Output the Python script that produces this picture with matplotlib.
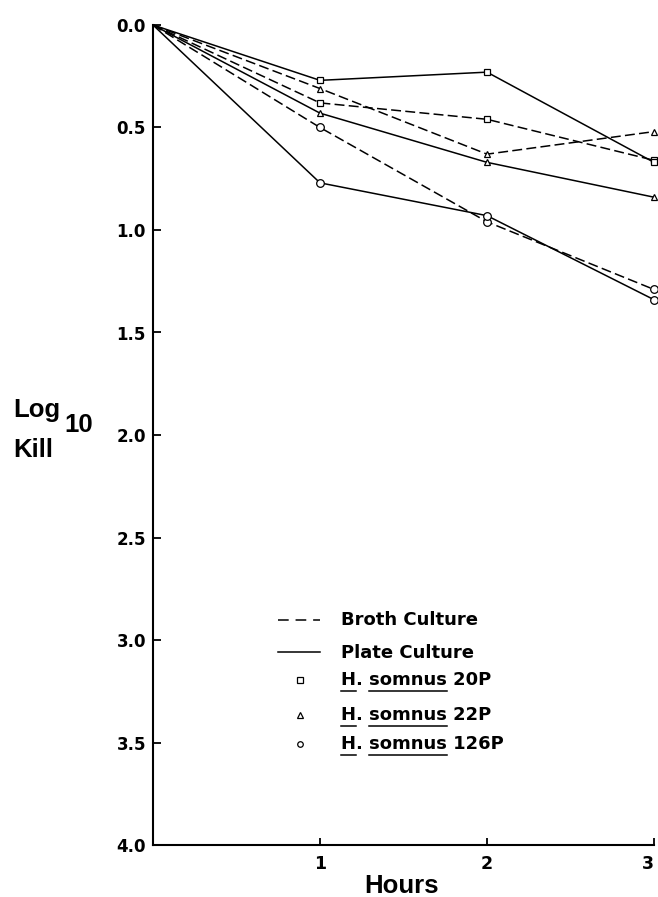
import numpy as np
import matplotlib
matplotlib.use("Agg")
import matplotlib.pyplot as plt
from matplotlib.lines import Line2D

plt.rcParams['font.family'] = ['Liberation Sans', 'DejaVu Sans']

hours = [0, 1, 2, 3]

# log10 kill
broth_20p = [0.0, 0.38, 0.46, 0.66]
plate_20p = [0.0, 0.27, 0.23, 0.67]
broth_22p = [0.0, 0.31, 0.63, 0.52]
plate_22p = [0.0, 0.43, 0.67, 0.84]
broth_126p = [0.0, 0.50, 0.96, 1.29]
plate_126p = [0.0, 0.77, 0.93, 1.34]

y_ticks = [0.0, 0.5, 1.0, 1.5, 2.0, 2.5, 3.0, 3.5, 4.0]
x_ticks = [1, 2, 3]

W, H = 658.0, 897.0
fig = plt.figure(figsize=(6.58, 8.97), dpi=100)
ax = fig.add_axes([153 / W, 1 - 845 / H, (654 - 153) / W, (845 - 25) / H])

dash = (0, (6.5, 2.8))
series = [
    (broth_20p, dash, 's', 5),
    (plate_20p, '-', 's', 5),
    (broth_22p, dash, '^', 5),
    (plate_22p, '-', '^', 5),
    (broth_126p, dash, 'o', 5.5),
    (plate_126p, '-', 'o', 5.5),
]
for vals, ls, mk, ms in series:
    ax.plot(hours, vals, color='black', linestyle=ls, linewidth=1.1, clip_on=False)
    ax.plot(hours[1:], vals[1:], linestyle='none', marker=mk, markersize=ms,
            markerfacecolor='white', markeredgecolor='black', markeredgewidth=0.9,
            clip_on=False, zorder=3)

tick_font = {'family': 'DejaVu Sans', 'weight': 'bold'}
ax.set_xlim(0, 3)
ax.set_ylim(4.0, 0.0)
ax.set_xticks(x_ticks)
ax.set_xticklabels([str(t) for t in x_ticks], fontsize=12.5, fontdict=tick_font)
ax.get_xticklabels()[-1].set_horizontalalignment('right')
ax.set_yticks(y_ticks)
ax.set_yticklabels(['%.1f' % t for t in y_ticks], fontsize=12, fontdict=tick_font)
ax.tick_params(axis='x', direction='in', length=5, width=1.3, pad=7)
ax.tick_params(axis='y', direction='in', length=5.5, width=1.3, pad=5)
for s in ['top', 'right']:
    ax.spines[s].set_visible(False)
for s in ['left', 'bottom']:
    ax.spines[s].set_linewidth(1.5)

big = dict(fontsize=18.5, fontweight='bold', family='Liberation Sans', va='baseline')
fig.text(402 / W, 1 - 893 / H, 'Hours', ha='center', **big)
fig.text(13 / W, 1 - 417 / H, 'Log', ha='left', **big)
fig.text(64 / W, 1 - 432 / H, '10', ha='left', **big)
fig.text(13 / W, 1 - 457 / H, 'Kill', ha='left', **big)

# hand-made legend
leg = dict(fontsize=13, fontweight='bold', family='DejaVu Sans', va='center')
fig.add_artist(Line2D([278 / W, 320 / W], [1 - 620 / H] * 2, color='black',
                      linewidth=1.1, linestyle=(0, (7, 4.5))))
fig.text(341 / W, 1 - 620 / H, 'Broth Culture', **leg)
fig.add_artist(Line2D([278 / W, 320 / W], [1 - 652 / H] * 2, color='black',
                      linewidth=1.1))
fig.text(341 / W, 1 - 653 / H, 'Plate Culture', **leg)

strains = ['20P', '22P', '126P']
strain_markers = ['s', '^', 'o']
strain_rows = [680, 715, 744]
fig.canvas.draw()
renderer = fig.canvas.get_renderer()


def text_width(s):
    t = fig.text(0, 0, s, **leg)
    w = t.get_window_extent(renderer).width
    t.remove()
    return w


for name, mk, row in zip(strains, strain_markers, strain_rows):
    yy = 1 - row / H
    fig.add_artist(Line2D([300 / W], [yy], marker=mk, markersize=4,
                          markerfacecolor='white', markeredgecolor='black',
                          markeredgewidth=0.9, linestyle='none'))
    fig.text(341 / W, yy, 'H. somnus ' + name, **leg)
    x0 = 341
    uy = 1 - (row + 10.5) / H
    w_h = text_width('H')
    fig.add_artist(Line2D([x0 / W, (x0 + w_h) / W], [uy, uy], color='black', linewidth=1.1))
    s0 = x0 + text_width('H. ')
    s1 = x0 + text_width('H. somnus')
    fig.add_artist(Line2D([s0 / W, s1 / W], [uy, uy], color='black', linewidth=1.1))

fig.savefig('out.png', dpi=100)
